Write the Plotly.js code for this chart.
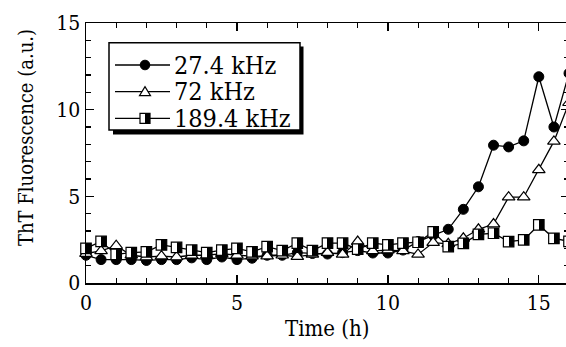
<!DOCTYPE html>
<html>
<head>
<meta charset="utf-8">
<script src="https://cdn.plot.ly/plotly-3.0.1.min.js"></script>
<style>
html, body { margin: 0; padding: 0; overflow: hidden; background: #fff; width: 566px; height: 347px; }
#chart { width: 572px; height: 347px; }
</style>
</head>
<body>
<div id="chart"></div>
<script>
// ---- data ----
const hours = [0, 0.5, 1, 1.5, 2, 2.5, 3, 3.5, 4, 4.5, 5, 5.5, 6, 6.5, 7, 7.5, 8,
               8.5, 9, 9.5, 10, 10.5, 11, 11.5, 12, 12.5, 13, 13.5, 14, 14.5, 15, 15.5, 16];
const seriesNames = ["27.4 kHz", "72 kHz", "189.4 kHz"];
const khz27 = [1.6, 1.35, 1.35, 1.35, 1.3, 1.35, 1.35, 1.45, 1.35, 1.5, 1.35, 1.43, 1.6, 1.6, 1.75, 1.7, 1.67,
               1.75, 1.87, 1.73, 1.73, 1.9, 2.39, 2.75, 3.1, 4.25, 5.55, 7.95, 7.85, 8.2, 11.9, 9.0, 12.1];
const khz72 = [1.7, 1.85, 2.15, 1.6, 1.5, 1.55, 1.5, 1.6, 1.6, 1.7, 1.6, 1.55, 1.55, 1.6, 1.52, 1.65, 1.75,
               1.65, 2.39, 1.85, 1.9, 1.85, 1.65, 2.33, 2.26, 2.58, 3.1, 3.4, 4.95, 4.95, 6.53, 8.17, 10.4];
const khz189 = [2.0, 2.4, 1.65, 1.75, 1.8, 2.2, 2.05, 1.9, 1.75, 1.9, 2.0, 1.8, 2.1, 1.87, 2.3, 1.87, 2.3,
                2.3, 1.95, 2.3, 2.2, 2.3, 2.35, 2.95, 2.1, 2.29, 2.8, 2.87, 2.39, 2.49, 3.35, 2.58, 2.4];
const xTickVals = [0, 5, 10, 15];
const yTickVals = [0, 5, 10, 15];
const xTitle = "Time (h)";
const yTitle = "ThT Fluorescence (a.u.)";

// ---- geometry (pixels) ----
const W = 572, H = 347;
const M = { l: 86, r: 3, t: 23, b: 64 };
const PW = W - M.l - M.r, PH = H - M.t - M.b;
const px2x = p => (p - M.l) / PW;
const py2y = p => (H - M.b - p) / PH;

const FONT = "DejaVu Serif Condensed";
const lineStyle = { color: "#000", width: 1.3 };

const traces = [
  { x: hours, y: khz27, name: seriesNames[0], mode: "lines+markers", cliponaxis: false, line: lineStyle,
    marker: { symbol: "circle", size: 10, color: "#000", line: { color: "#000", width: 1 } } },
  { x: hours, y: khz72, name: seriesNames[1], mode: "lines+markers", cliponaxis: false, line: lineStyle,
    marker: { symbol: "triangle-up", size: 11, color: "#fff", line: { color: "#000", width: 1.2 } } },
  { x: hours, y: khz189, name: seriesNames[2], mode: "lines+markers", cliponaxis: false, line: lineStyle,
    marker: { symbol: "square", size: 10.5, color: "#fff", gradient: { type: "horizontal", color: "#000" },
              line: { color: "#000", width: 1.2 } } }
];

const axisCommon = {
  showline: true, linecolor: "#000", linewidth: 1.5, mirror: "ticks",
  ticks: "inside", ticklen: 8, tickwidth: 1.3, tickcolor: "#000",
  showgrid: false, zeroline: false,
  tickfont: { family: FONT, size: 21, color: "#000" },
  minor: { ticks: "inside", ticklen: 5, tickwidth: 1.1, tickcolor: "#000", dtick: 1, showgrid: false }
};

// ---- legend key (drawn in the legend box, pixel positions converted to paper) ----
const LEG = { lineL: 115, lineR: 170, mx: 145, textX: 173, rows: [65, 91.7, 118.3] };
const P = (x, y) => `${px2x(x)},${py2y(y)}`;
const legendShapes = [
  { type: "rect", xref: "paper", yref: "paper", layer: "above",
    x0: px2x(113), x1: px2x(303.5), y0: py2y(134.5), y1: py2y(46.5), fillcolor: "#000", line: { width: 0 } },
  { type: "rect", xref: "paper", yref: "paper", layer: "above",
    x0: px2x(109), x1: px2x(300), y0: py2y(130), y1: py2y(42.7), fillcolor: "#fff", line: { color: "#000", width: 1.5 } }
];
LEG.rows.forEach(ry => legendShapes.push({
  type: "line", xref: "paper", yref: "paper", layer: "above",
  x0: px2x(LEG.lineL), x1: px2x(LEG.lineR), y0: py2y(ry), y1: py2y(ry), line: { color: "#000", width: 1.3 }
}));
// circle key
legendShapes.push({ type: "circle", xref: "paper", yref: "paper", layer: "above",
  x0: px2x(LEG.mx - 4.8), x1: px2x(LEG.mx + 4.8), y0: py2y(LEG.rows[0] + 4.8), y1: py2y(LEG.rows[0] - 4.8),
  fillcolor: "#000", line: { color: "#000", width: 1 } });
// triangle key
legendShapes.push({ type: "path", xref: "paper", yref: "paper", layer: "above",
  path: `M${P(LEG.mx - 5.5, LEG.rows[1] + 4)}L${P(LEG.mx + 5.5, LEG.rows[1] + 4)}L${P(LEG.mx, LEG.rows[1] - 5)}Z`,
  fillcolor: "#fff", line: { color: "#000", width: 1.2 } });
// half-filled square key
legendShapes.push({ type: "rect", xref: "paper", yref: "paper", layer: "above",
  x0: px2x(LEG.mx - 5), x1: px2x(LEG.mx + 5), y0: py2y(LEG.rows[2] + 5), y1: py2y(LEG.rows[2] - 5),
  fillcolor: "#fff", line: { width: 0 } });
legendShapes.push({ type: "rect", xref: "paper", yref: "paper", layer: "above",
  x0: px2x(LEG.mx), x1: px2x(LEG.mx + 5), y0: py2y(LEG.rows[2] + 5), y1: py2y(LEG.rows[2] - 5),
  fillcolor: "#000", line: { width: 0 } });
legendShapes.push({ type: "rect", xref: "paper", yref: "paper", layer: "above",
  x0: px2x(LEG.mx - 5), x1: px2x(LEG.mx + 5), y0: py2y(LEG.rows[2] + 5), y1: py2y(LEG.rows[2] - 5),
  fillcolor: "rgba(0,0,0,0)", line: { color: "#000", width: 1.2 } });

const legendLabels = seriesNames.map((name, i) => ({
  text: name, xref: "paper", yref: "paper", x: px2x(LEG.textX), y: py2y(LEG.rows[i]),
  xanchor: "left", yanchor: "middle", showarrow: false, borderpad: 0,
  font: { family: FONT, size: 25, color: "#000" }
}));

const layout = {
  width: W, height: H, autosize: false, margin: M,
  paper_bgcolor: "#fff", plot_bgcolor: "#fff",
  font: { family: FONT, color: "#000" },
  showlegend: false,
  xaxis: Object.assign({}, axisCommon, { range: [0, 16], tickmode: "array", tickvals: xTickVals }),
  yaxis: Object.assign({}, axisCommon, { range: [0, 15], tickmode: "array", tickvals: yTickVals }),
  shapes: legendShapes,
  annotations: [
    { text: xTitle, xref: "paper", yref: "paper", x: px2x(327), y: py2y(328), xanchor: "center", yanchor: "middle",
      showarrow: false, font: { family: FONT, size: 22, color: "#000" } },
    { text: yTitle, xref: "paper", yref: "paper", x: px2x(26), y: py2y(138), xanchor: "center", yanchor: "middle",
      showarrow: false, textangle: -90, font: { family: FONT, size: 20, color: "#000" } }
  ].concat(legendLabels)
};

const gd = document.getElementById("chart");

// turn the horizontal marker gradient into a sharp white-left / black-right split
function fixGradients() {
  const NS = "http://www.w3.org/2000/svg";
  gd.querySelectorAll("linearGradient").forEach(lg => {
    lg.removeAttribute("gradientTransform");
    lg.removeAttribute("gradientUnits");
    lg.setAttribute("x1", "0"); lg.setAttribute("x2", "1");
    lg.setAttribute("y1", "0"); lg.setAttribute("y2", "0");
    while (lg.firstChild) lg.removeChild(lg.firstChild);
    [[0, "#fff"], [0.5, "#fff"], [0.5, "#000"], [1, "#000"]].forEach(([o, c]) => {
      const s = document.createElementNS(NS, "stop");
      s.setAttribute("offset", o);
      s.setAttribute("stop-color", c);
      lg.appendChild(s);
    });
  });
}

Plotly.newPlot(gd, traces, layout, { displayModeBar: false, staticPlot: true, responsive: false })
  .then(() => { try { fixGradients(); } catch (e) {} });
</script>
</body>
</html>
